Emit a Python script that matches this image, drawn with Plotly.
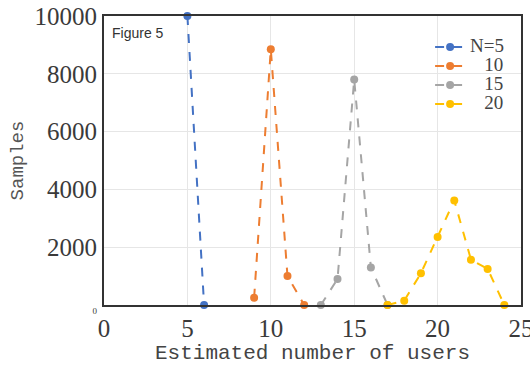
import plotly.graph_objects as go

# Histogram of estimated user counts for different true group sizes N
series_names = ["N=5", "\u00a0\u00a0\u00a010", "\u00a0\u00a0\u00a015", "\u00a0\u00a0\u00a020"]
x_n5 = [5, 6]
y_n5 = [10000, 0]
x_n10 = [9, 10, 11, 12]
y_n10 = [250, 8850, 1000, 0]
x_n15 = [13, 14, 15, 16, 17]
y_n15 = [0, 900, 7800, 1300, 0]
x_n20 = [17, 18, 19, 20, 21, 22, 23, 24]
y_n20 = [0, 150, 1100, 2350, 3620, 1570, 1250, 0]

x_ticks = [0, 5, 10, 15, 20, 25]
y_ticks = [0, 2000, 4000, 6000, 8000, 10000]
y_tick_text = ["<span style='font-size:9px'>0</span>", "2000", "4000", "6000", "8000", "10000"]

colors = ["#4472C4", "#ED7D31", "#A5A5A5", "#FFC000"]

fig = go.Figure()
for name, xs, ys, c in zip(series_names,
                           [x_n5, x_n10, x_n15, x_n20],
                           [y_n5, y_n10, y_n15, y_n20],
                           colors):
    fig.add_trace(go.Scatter(
        x=xs, y=ys,
        name="<span style='font-size:19px'>" + name + "</span>",
        mode="lines+markers",
        line=dict(color=c, width=2, dash="dash"),
        marker=dict(color=c, size=8),
        cliponaxis=False,
    ))

axis_common = dict(
    showline=True, linecolor="#333333", linewidth=2, mirror=True,
    showgrid=True, gridcolor="#E6E6E6", gridwidth=1,
    zeroline=False, ticks="", automargin=False,
    tickfont=dict(family="Liberation Serif", size=25, color="#3a3a3a"),
)

fig.update_layout(
    width=530, height=365,
    margin=dict(l=104, r=9, t=16, b=60),
    paper_bgcolor="white", plot_bgcolor="white",
    xaxis=dict(range=[0, 25], tickvals=x_ticks, ticklabeloverflow="allow", **axis_common,
               title=dict(text="Estimated number of users", standoff=2,
                          font=dict(family="Liberation Mono", size=21, color="#444444"))),
    yaxis=dict(range=[0, 10000], tickvals=y_ticks, ticktext=y_tick_text, **axis_common,
               title=dict(text="Samples", standoff=6,
                          font=dict(family="Liberation Mono", size=19, color="#555555"))),
    legend=dict(x=0.782, y=0.943, xanchor="left", yanchor="top",
                bgcolor="rgba(0,0,0,0)", itemwidth=30, tracegroupgap=0,
                font=dict(family="Liberation Serif", size=12, color="#444444")),
    annotations=[dict(text="Figure 5", xref="paper", yref="paper", x=0.015, y=0.975,
                      xanchor="left", yanchor="top", showarrow=False,
                      font=dict(family="Liberation Sans", size=14, color="#333333"))],
)

fig.write_html("out.html")
